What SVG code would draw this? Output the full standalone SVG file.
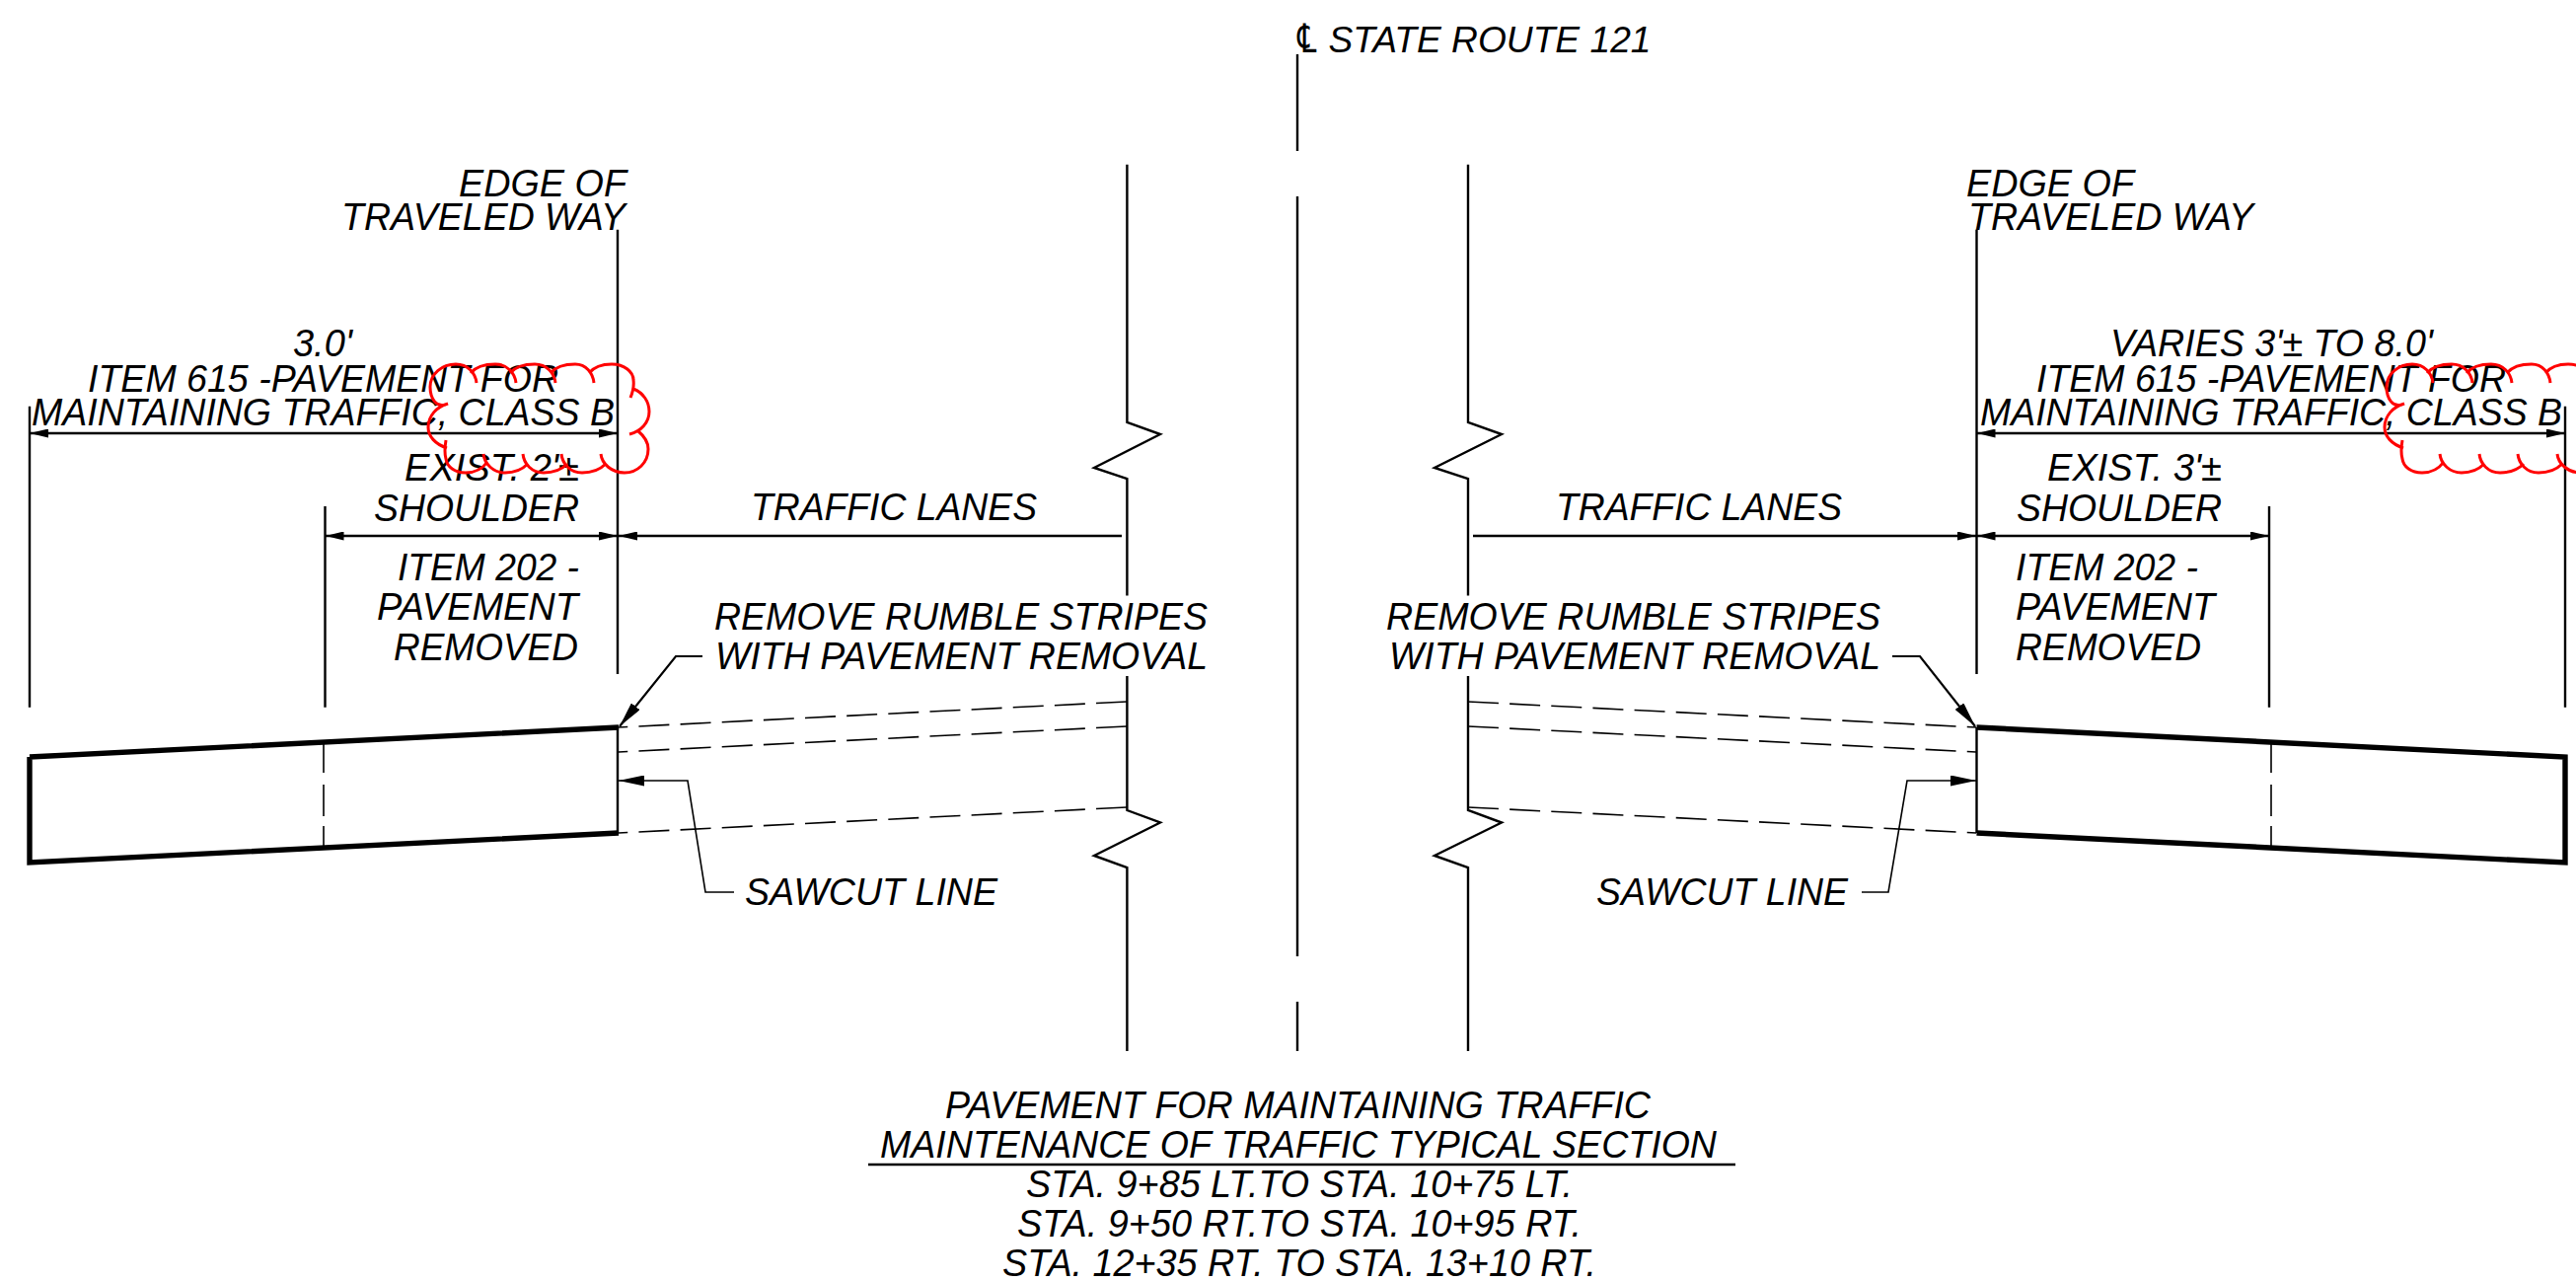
<svg xmlns="http://www.w3.org/2000/svg" width="2611" height="1298" viewBox="0 0 2611 1298">
<style>
text{font-family:"Liberation Sans",Arial,sans-serif;font-style:italic;font-size:39px;fill:#000}
.l{fill:none;stroke:#000;stroke-width:2.4}
.p{fill:none;stroke:#000;stroke-width:5.4;stroke-linejoin:miter}
.t{fill:none;stroke:#000;stroke-width:1.6}
.d{fill:none;stroke:#000;stroke-width:1.6;stroke-dasharray:31 11.2}
.dim{fill:none;stroke:#000;stroke-width:2.4;marker-end:url(#a)}
.dimb{fill:none;stroke:#000;stroke-width:2.4;marker-start:url(#as);marker-end:url(#a)}
.cloud{fill:none;stroke:#f00;stroke-width:3}
</style>
<defs>
<marker id="a" markerUnits="userSpaceOnUse" markerWidth="19" markerHeight="9" refX="19" refY="4.5" orient="auto"><path d="M0,0L19,4.5L0,9Z" fill="#000"/></marker>
<marker id="as" markerUnits="userSpaceOnUse" markerWidth="19" markerHeight="9" refX="19" refY="4.5" orient="auto-start-reverse"><path d="M0,0L19,4.5L0,9Z" fill="#000"/></marker>
<marker id="b" markerUnits="userSpaceOnUse" markerWidth="26" markerHeight="11" refX="26" refY="5.5" orient="auto"><path d="M0,0L26,5.5L0,11Z" fill="#000"/></marker>
<path id="cl" d="M454,409C442,415 436,403 436,392C436,379 448,369 462,369C474,369 482,378 483,388M477,378C482,372 492,369 502,369C514,369 522,378 523,388M517,378C522,372 532,369 542,369C554,369 562,378 563,388M558,378C563,372 573,369 583,369C594,369 601,378 602,388M597,378C602,372 610,369 620,369C633,369 642,377 642,385C643,392 641,398 639,403M642,394C652,398 658,407 658,417C658,428 650,437 638,440M647,437C653,442 657,448 657,455C657,469 646,479 633,479C620,479 610,470 609,460M614,470C609,475 600,479 590,479C578,479 570,470 569,460M575,470C570,475 561,479 551,479C539,479 531,470 530,460M535,470C530,475 522,479 512,479C500,479 491,470 490,460M494,468C489,475 481,479 472,479C461,479 453,473 452,465C450,458 451,452 452,446M453,454C441,450 434,442 434,433C434,421 443,412 454,409"/>
</defs>

<g id="centerline">
<path class="l" d="M1315,55V153M1315,199V969M1315,1015V1065"/>
<text transform="translate(1311,53) scale(1,1.35)" style="font-family:'DejaVu Sans',sans-serif;font-size:30px">℄</text>
<text x="1346.500" y="53" style="font-size:37px" textLength="327" lengthAdjust="spacingAndGlyphs">STATE ROUTE 121</text>
</g>

<g id="break-lines">
<path class="l" d="M1142.4,166.7V428L1176,440L1109,474L1142.4,485V603.5M1142.4,685V821L1176,833.5L1109,867L1142.4,879V1065"/>
<path class="l" d="M1488,166.7V428L1522,440L1454,474L1488,485V603.5M1488,685V821L1522,833.5L1454,867L1488,879V1065"/>
</g>

<g id="left-extension-lines">
<path class="l" d="M30,411.7V716.7M329.5,513V716.7M626,232.7V683"/>
</g>
<g id="right-extension-lines">
<path class="l" d="M2003.5,232.7V683M2300,513V716.7M2600,411.7V716.7"/>
</g>

<g id="left-pavement">
<path class="p" d="M30,767L627,737M627,844L30,874V767"/>
<path class="l" d="M626,737V844"/>
<path class="t" d="M328,754V783M328,795V827M328,837V857"/>
</g>
<g id="right-pavement">
<path class="p" d="M2003.5,737L2600,767V874L2003.5,844"/>
<path class="l" d="M2003.5,737V844"/>
<path class="t" d="M2302,754V783M2302,795V827M2302,837V857"/>
</g>

<g id="existing-pavement-dashed">
<path class="d" d="M1142,711L627,737M1142,736L627,762M1142,818L627,844"/>
<path class="d" d="M1488,711L2003,737M1488,736L2003,762M1488,818L2003,844"/>
</g>

<g id="connectors">
<path class="dimb" d="M30,439H626"/>
<path class="dimb" d="M329.5,543H626"/>
<path class="dim" d="M1137,543H627"/>
<path class="dimb" d="M2003.5,439H2600"/>
<path class="dimb" d="M2003.5,543H2300"/>
<path class="dim" d="M1493,543H2003"/>
<path fill="none" stroke="#000" stroke-width="2.2" marker-end="url(#b)" d="M712,665H685L628,736"/>
<path fill="none" stroke="#000" stroke-width="2.2" marker-end="url(#b)" d="M1918,665H1946L2002,736"/>
<path class="t" marker-end="url(#b)" d="M744,904H715L697,791H627"/>
<path class="t" marker-end="url(#b)" d="M1887,904H1914L1933,791H2003"/>
</g>

<g id="left-labels">
<text x="465" y="199" textLength="170" lengthAdjust="spacingAndGlyphs">EDGE OF</text>
<text x="346" y="233" textLength="288" lengthAdjust="spacingAndGlyphs">TRAVELED WAY</text>
<text x="297" y="361" textLength="60" lengthAdjust="spacingAndGlyphs">3.0'</text>
<text x="89" y="397" textLength="477" lengthAdjust="spacingAndGlyphs">ITEM 615 -PAVEMENT FOR</text>
<text x="32" y="431" textLength="591" lengthAdjust="spacingAndGlyphs">MAINTAINING TRAFFIC, CLASS B</text>
<text x="410" y="487" textLength="177" lengthAdjust="spacingAndGlyphs">EXIST. 2'±</text>
<text x="379" y="528" textLength="208" lengthAdjust="spacingAndGlyphs">SHOULDER</text>
<text x="403" y="588" textLength="184" lengthAdjust="spacingAndGlyphs">ITEM 202 -</text>
<text x="382" y="628" textLength="204" lengthAdjust="spacingAndGlyphs">PAVEMENT</text>
<text x="399" y="669" textLength="187" lengthAdjust="spacingAndGlyphs">REMOVED</text>
<text x="761" y="527" textLength="290" lengthAdjust="spacingAndGlyphs">TRAFFIC LANES</text>
<text x="724" y="638" textLength="500" lengthAdjust="spacingAndGlyphs">REMOVE RUMBLE STRIPES</text>
<text x="725" y="678" textLength="499" lengthAdjust="spacingAndGlyphs">WITH PAVEMENT REMOVAL</text>
<text x="755" y="917" textLength="256" lengthAdjust="spacingAndGlyphs">SAWCUT LINE</text>
</g>
<g id="right-labels">
<text x="1993" y="199" textLength="170" lengthAdjust="spacingAndGlyphs">EDGE OF</text>
<text x="1995" y="233" textLength="289" lengthAdjust="spacingAndGlyphs">TRAVELED WAY</text>
<text x="2139" y="361" textLength="327" lengthAdjust="spacingAndGlyphs">VARIES 3'± TO 8.0'</text>
<text x="2064" y="397" textLength="476" lengthAdjust="spacingAndGlyphs">ITEM 615 -PAVEMENT FOR</text>
<text x="2007" y="431" textLength="590" lengthAdjust="spacingAndGlyphs">MAINTAINING TRAFFIC, CLASS B</text>
<text x="2075" y="487" textLength="177" lengthAdjust="spacingAndGlyphs">EXIST. 3'±</text>
<text x="2044" y="528" textLength="208" lengthAdjust="spacingAndGlyphs">SHOULDER</text>
<text x="2043" y="588" textLength="185" lengthAdjust="spacingAndGlyphs">ITEM 202 -</text>
<text x="2043" y="628" textLength="202" lengthAdjust="spacingAndGlyphs">PAVEMENT</text>
<text x="2043" y="669" textLength="188" lengthAdjust="spacingAndGlyphs">REMOVED</text>
<text x="1577" y="527" textLength="290" lengthAdjust="spacingAndGlyphs">TRAFFIC LANES</text>
<text x="1405" y="638" textLength="501" lengthAdjust="spacingAndGlyphs">REMOVE RUMBLE STRIPES</text>
<text x="1408" y="678" textLength="498" lengthAdjust="spacingAndGlyphs">WITH PAVEMENT REMOVAL</text>
<text x="1618" y="917" textLength="255" lengthAdjust="spacingAndGlyphs">SAWCUT LINE</text>
</g>

<g id="revision-clouds">
<use href="#cl" class="cloud"/>
<use href="#cl" class="cloud" transform="translate(1983,0)"/>
</g>

<g id="title">
<text x="958" y="1133" textLength="715" lengthAdjust="spacingAndGlyphs">PAVEMENT FOR MAINTAINING TRAFFIC</text>
<text x="892" y="1173" textLength="848" lengthAdjust="spacingAndGlyphs">MAINTENANCE OF TRAFFIC TYPICAL SECTION</text>
<path class="l" d="M880,1180H1759"/>
<text x="1040" y="1213" textLength="554" lengthAdjust="spacingAndGlyphs">STA. 9+85 LT.TO STA. 10+75 LT.</text>
<text x="1031" y="1253" textLength="572" lengthAdjust="spacingAndGlyphs">STA. 9+50 RT.TO STA. 10+95 RT.</text>
<text x="1016" y="1293" textLength="602" lengthAdjust="spacingAndGlyphs">STA. 12+35 RT. TO STA. 13+10 RT.</text>
</g>
</svg>
